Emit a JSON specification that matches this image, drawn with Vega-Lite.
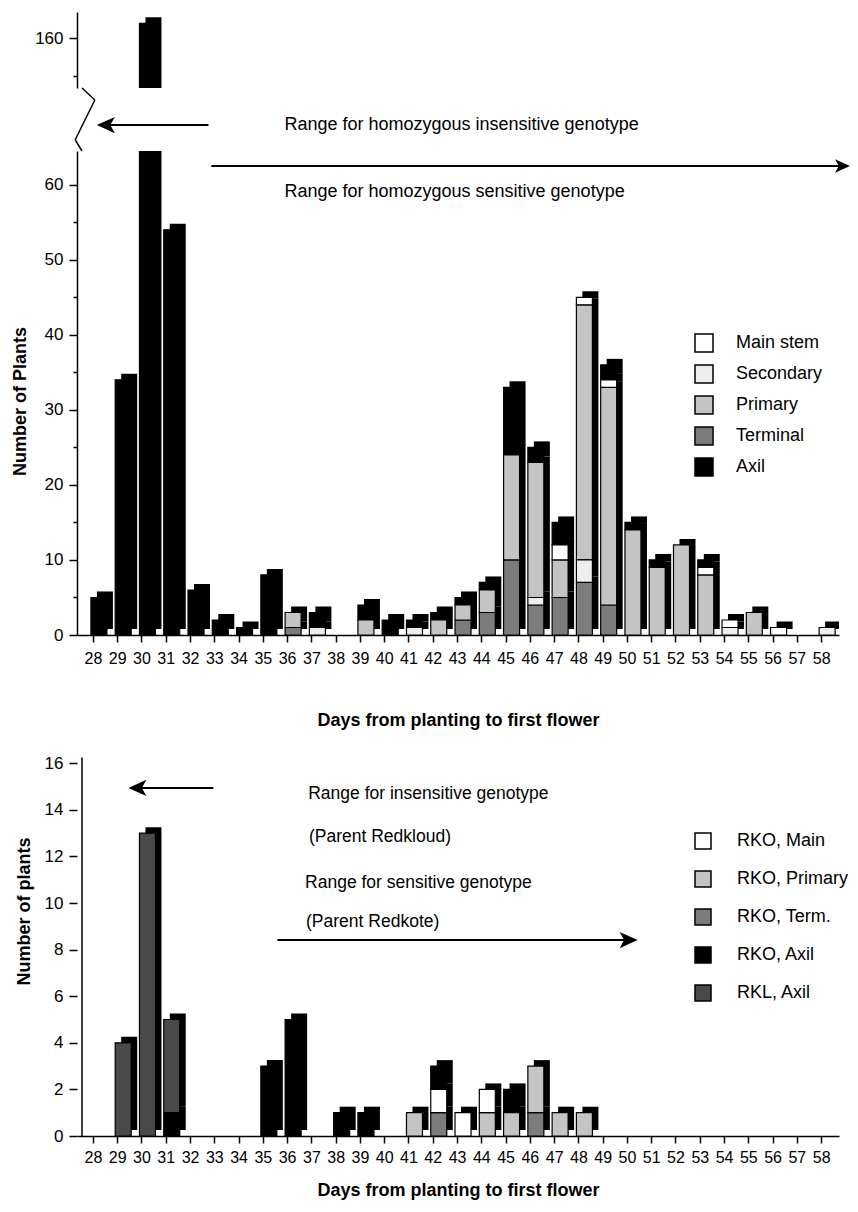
{
  "$schema": "https://vega.github.io/schema/vega-lite/v6.json",
  "autosize": {"type": "pad"},
  "padding": {"left": 11, "top": 12, "right": 2, "bottom": 4},
  "background": "white",
  "config": {
    "view": {"stroke": null},
    "font": "Liberation Sans",
    "axis": {"grid": false, "domainColor": "black", "domainWidth": 1.5, "tickColor": "black", "tickWidth": 1.5, "labelColor": "black", "labelFont": "Liberation Sans", "titleFont": "Liberation Sans", "titleColor": "black", "titleFontWeight": "bold", "titleFontSize": 18},
    "axisX": {"labelOverlap": false, "labelSeparation": 0, "labelFlush": false},
    "legend": {"titleFont": "Liberation Sans", "labelFont": "Liberation Sans", "labelColor": "black"}
  },
  "datasets": {
    "top": [
      {"day": 28, "part": "Axil", "n": 5},
      {"day": 29, "part": "Axil", "n": 34},
      {"day": 30, "part": "Axil", "n": 162},
      {"day": 31, "part": "Axil", "n": 54},
      {"day": 32, "part": "Axil", "n": 6},
      {"day": 33, "part": "Axil", "n": 2},
      {"day": 34, "part": "Axil", "n": 1},
      {"day": 35, "part": "Axil", "n": 8},
      {"day": 36, "part": "Terminal", "n": 1},
      {"day": 36, "part": "Primary", "n": 2},
      {"day": 37, "part": "Axil", "n": 2},
      {"day": 37, "part": "Secondary", "n": 1},
      {"day": 39, "part": "Axil", "n": 2},
      {"day": 39, "part": "Primary", "n": 2},
      {"day": 40, "part": "Axil", "n": 2},
      {"day": 41, "part": "Axil", "n": 1},
      {"day": 41, "part": "Secondary", "n": 1},
      {"day": 42, "part": "Axil", "n": 1},
      {"day": 42, "part": "Primary", "n": 2},
      {"day": 43, "part": "Axil", "n": 1},
      {"day": 43, "part": "Terminal", "n": 2},
      {"day": 43, "part": "Primary", "n": 2},
      {"day": 44, "part": "Axil", "n": 1},
      {"day": 44, "part": "Terminal", "n": 3},
      {"day": 44, "part": "Primary", "n": 3},
      {"day": 45, "part": "Axil", "n": 9},
      {"day": 45, "part": "Terminal", "n": 10},
      {"day": 45, "part": "Primary", "n": 14},
      {"day": 46, "part": "Axil", "n": 2},
      {"day": 46, "part": "Terminal", "n": 4},
      {"day": 46, "part": "Primary", "n": 18},
      {"day": 46, "part": "Secondary", "n": 1},
      {"day": 47, "part": "Axil", "n": 3},
      {"day": 47, "part": "Terminal", "n": 5},
      {"day": 47, "part": "Primary", "n": 5},
      {"day": 47, "part": "Main stem", "n": 2},
      {"day": 48, "part": "Terminal", "n": 7},
      {"day": 48, "part": "Primary", "n": 34},
      {"day": 48, "part": "Secondary", "n": 3},
      {"day": 48, "part": "Main stem", "n": 1},
      {"day": 49, "part": "Axil", "n": 2},
      {"day": 49, "part": "Terminal", "n": 4},
      {"day": 49, "part": "Primary", "n": 29},
      {"day": 49, "part": "Main stem", "n": 1},
      {"day": 50, "part": "Axil", "n": 1},
      {"day": 50, "part": "Primary", "n": 14},
      {"day": 51, "part": "Axil", "n": 1},
      {"day": 51, "part": "Primary", "n": 9},
      {"day": 52, "part": "Primary", "n": 12},
      {"day": 53, "part": "Axil", "n": 1},
      {"day": 53, "part": "Primary", "n": 8},
      {"day": 53, "part": "Main stem", "n": 1},
      {"day": 54, "part": "Secondary", "n": 1},
      {"day": 54, "part": "Main stem", "n": 1},
      {"day": 55, "part": "Primary", "n": 3},
      {"day": 56, "part": "Main stem", "n": 1},
      {"day": 58, "part": "Secondary", "n": 1}
    ],
    "bottom": [
      {"day": 29, "part": "RKL, Axil", "n": 4},
      {"day": 30, "part": "RKL, Axil", "n": 13},
      {"day": 31, "part": "RKO, Axil", "n": 1},
      {"day": 31, "part": "RKL, Axil", "n": 4},
      {"day": 35, "part": "RKO, Axil", "n": 3},
      {"day": 36, "part": "RKO, Axil", "n": 5},
      {"day": 38, "part": "RKO, Axil", "n": 1},
      {"day": 39, "part": "RKO, Axil", "n": 1},
      {"day": 41, "part": "RKO, Primary", "n": 1},
      {"day": 42, "part": "RKO, Axil", "n": 1},
      {"day": 42, "part": "RKO, Term.", "n": 1},
      {"day": 42, "part": "RKO, Main", "n": 1},
      {"day": 43, "part": "RKO, Main", "n": 1},
      {"day": 44, "part": "RKO, Primary", "n": 1},
      {"day": 44, "part": "RKO, Main", "n": 1},
      {"day": 45, "part": "RKO, Axil", "n": 1},
      {"day": 45, "part": "RKO, Primary", "n": 1},
      {"day": 46, "part": "RKO, Term.", "n": 1},
      {"day": 46, "part": "RKO, Primary", "n": 2},
      {"day": 47, "part": "RKO, Primary", "n": 1},
      {"day": 48, "part": "RKO, Primary", "n": 1}
    ]
  },
  "bounds": "flush",
  "spacing": 63,
  "resolve": {"scale": {"color": "independent", "y": "independent", "x": "independent"}, "legend": {"color": "independent"}},
  "vconcat": [
    {
      "width": 762,
      "height": 76,
      "data": {"name": "top"},
      "layer": [
        {
          "mark": {"type": "bar", "width": 16, "xOffset": 12, "yOffset": -6, "color": "black", "clip": true},
          "encoding": {
            "x": {"field": "day", "type": "quantitative", "scale": {"domain": [27.55, 58.53], "nice": false, "zero": false}, "axis": null},
            "y": {"field": "n", "type": "quantitative", "stack": "zero", "scale": {"domain": [153.4, 163.5], "nice": false, "zero": false},
                  "axis": {"title": null, "values": [155, 160], "labelExpr": "datum.value == 160 ? datum.label : ''", "labelFontSize": 17, "labelPadding": 6,
                           "tickSize": {"condition": {"test": "datum.value == 160", "value": 8}, "value": 4}}},
            "detail": {"field": "part"},
            "order": {"value": null}
          }
        },
        {
          "mark": {"type": "bar", "width": 16, "xOffset": 6, "color": "black", "stroke": "black", "strokeWidth": 1.2, "clip": true},
          "encoding": {
            "x": {"field": "day", "type": "quantitative", "scale": {"domain": [27.55, 58.53], "nice": false, "zero": false}, "axis": null},
            "y": {"field": "n", "type": "quantitative", "stack": "zero", "scale": {"domain": [153.4, 163.5], "nice": false, "zero": false}},
            "detail": {"field": "part"},
            "order": {"value": null}
          }
        }
      ]
    },
    {
      "width": 762,
      "height": 484,
      "data": {"name": "top"},
      "layer": [
        {
          "mark": {"type": "bar", "width": 16, "xOffset": 12, "yOffset": -6, "color": "black", "clip": true},
          "encoding": {
            "x": {"field": "day", "type": "quantitative", "scale": {"domain": [27.55, 58.53], "nice": false, "zero": false},
                  "axis": {"title": "Days from planting to first flower", "values": [28,29,30,31,32,33,34,35,36,37,38,39,40,41,42,43,44,45,46,47,48,49,50,51,52,53,54,55,56,57,58], "format": "d", "labelFontSize": 16, "tickSize": 7, "labelPadding": 8, "labelOverlap": false, "titlePadding": 45}},
            "y": {"field": "n", "type": "quantitative", "stack": "zero", "scale": {"domain": [0, 64.5], "nice": false},
                  "axis": {"title": "Number of Plants", "values": [0,5,10,15,20,25,30,35,40,45,50,55,60],
                           "labelExpr": "datum.value % 10 == 0 ? datum.label : ''", "labelFontSize": 17, "labelPadding": 6,
                           "tickSize": {"condition": {"test": "datum.value % 10 == 0", "value": 8}, "value": 4},
                           "titleX": -56.5, "titleY": 250, "titleBaseline": "middle", "titleAlign": "center"}},
            "detail": {"field": "part"},
            "order": {"value": null}
          }
        },
        {
          "mark": {"type": "bar", "width": 16, "xOffset": 6, "stroke": "black", "strokeWidth": 1.2, "clip": true},
          "encoding": {
            "x": {"field": "day", "type": "quantitative", "scale": {"domain": [27.55, 58.53], "nice": false, "zero": false},
                  "axis": {"title": "Days from planting to first flower", "values": [28,29,30,31,32,33,34,35,36,37,38,39,40,41,42,43,44,45,46,47,48,49,50,51,52,53,54,55,56,57,58], "format": "d", "labelFontSize": 16, "tickSize": 7, "labelPadding": 8, "labelOverlap": false, "titlePadding": 45}},
            "y": {"field": "n", "type": "quantitative", "stack": "zero", "scale": {"domain": [0, 64.5], "nice": false}},
            "color": {"field": "part", "type": "nominal",
                      "scale": {"domain": ["Main stem", "Secondary", "Primary", "Terminal", "Axil"], "range": ["#ffffff", "#eeeeee", "#c4c4c4", "#7c7c7c", "#000000"]},
                      "legend": {"title": null, "orient": "none", "legendX": 617, "legendY": 182, "symbolType": "square", "symbolSize": 324,
                                 "symbolStrokeColor": "black", "symbolStrokeWidth": 1.5, "symbolOpacity": 1, "labelFontSize": 18, "labelOffset": 22, "rowPadding": 7}},
            "order": {"value": null}
          }
        },
        {
          "data": {"values": [{}]},
          "mark": {"type": "text", "align": "left", "baseline": "middle", "fontSize": 18, "font": "Liberation Sans", "color": "black"},
          "encoding": {
            "x": {"datum": 35.89, "type": "quantitative", "scale": {"domain": [27.55, 58.53], "nice": false, "zero": false},
                  "axis": {"title": "Days from planting to first flower", "values": [28,29,30,31,32,33,34,35,36,37,38,39,40,41,42,43,44,45,46,47,48,49,50,51,52,53,54,55,56,57,58], "format": "d", "labelFontSize": 16, "tickSize": 7, "labelPadding": 8, "labelOverlap": false, "titlePadding": 45}},
            "y": {"datum": 67.96, "type": "quantitative", "scale": {"domain": [0, 64.5], "nice": false}},
            "text": {"value": "Range for homozygous insensitive genotype"}
          }
        },
        {
          "data": {"values": [{}]},
          "mark": {"type": "text", "align": "left", "baseline": "middle", "fontSize": 18, "font": "Liberation Sans", "color": "black"},
          "encoding": {
            "x": {"datum": 35.89, "type": "quantitative", "scale": {"domain": [27.55, 58.53], "nice": false, "zero": false},
                  "axis": {"title": "Days from planting to first flower", "values": [28,29,30,31,32,33,34,35,36,37,38,39,40,41,42,43,44,45,46,47,48,49,50,51,52,53,54,55,56,57,58], "format": "d", "labelFontSize": 16, "tickSize": 7, "labelPadding": 8, "labelOverlap": false, "titlePadding": 45}},
            "y": {"datum": 59.04, "type": "quantitative", "scale": {"domain": [0, 64.5], "nice": false}},
            "text": {"value": "Range for homozygous sensitive genotype"}
          }
        },
        {
          "data": {"values": [{}]},
          "mark": {"type": "rule", "strokeWidth": 2, "color": "black"},
          "encoding": {
            "x": {"datum": 32.76, "type": "quantitative", "scale": {"domain": [27.55, 58.53], "nice": false, "zero": false},
                  "axis": {"title": "Days from planting to first flower", "values": [28,29,30,31,32,33,34,35,36,37,38,39,40,41,42,43,44,45,46,47,48,49,50,51,52,53,54,55,56,57,58], "format": "d", "labelFontSize": 16, "tickSize": 7, "labelPadding": 8, "labelOverlap": false, "titlePadding": 45}},
            "x2": {"datum": 28.5},
            "y": {"datum": 67.96, "type": "quantitative", "scale": {"domain": [0, 64.5], "nice": false}}
          }
        },
        {
          "data": {"values": [{}]},
          "mark": {"type": "point", "shape": "M0,0L1,-0.45L0.75,0L1,0.45Z", "size": 1296, "filled": true, "color": "black", "opacity": 1},
          "encoding": {
            "x": {"datum": 28.16, "type": "quantitative", "scale": {"domain": [27.55, 58.53], "nice": false, "zero": false},
                  "axis": {"title": "Days from planting to first flower", "values": [28,29,30,31,32,33,34,35,36,37,38,39,40,41,42,43,44,45,46,47,48,49,50,51,52,53,54,55,56,57,58], "format": "d", "labelFontSize": 16, "tickSize": 7, "labelPadding": 8, "labelOverlap": false, "titlePadding": 45}},
            "y": {"datum": 67.96, "type": "quantitative", "scale": {"domain": [0, 64.5], "nice": false}}
          }
        },
        {
          "data": {"values": [{}]},
          "mark": {"type": "rule", "strokeWidth": 2, "color": "black"},
          "encoding": {
            "x": {"datum": 32.88, "type": "quantitative", "scale": {"domain": [27.55, 58.53], "nice": false, "zero": false},
                  "axis": {"title": "Days from planting to first flower", "values": [28,29,30,31,32,33,34,35,36,37,38,39,40,41,42,43,44,45,46,47,48,49,50,51,52,53,54,55,56,57,58], "format": "d", "labelFontSize": 16, "tickSize": 7, "labelPadding": 8, "labelOverlap": false, "titlePadding": 45}},
            "x2": {"datum": 58.9},
            "y": {"datum": 62.5, "type": "quantitative", "scale": {"domain": [0, 64.5], "nice": false}}
          }
        },
        {
          "data": {"values": [{}]},
          "mark": {"type": "point", "shape": "M0,0L-1,-0.45L-0.75,0L-1,0.45Z", "size": 900, "filled": true, "color": "black", "opacity": 1},
          "encoding": {
            "x": {"datum": 59.19, "type": "quantitative", "scale": {"domain": [27.55, 58.53], "nice": false, "zero": false},
                  "axis": {"title": "Days from planting to first flower", "values": [28,29,30,31,32,33,34,35,36,37,38,39,40,41,42,43,44,45,46,47,48,49,50,51,52,53,54,55,56,57,58], "format": "d", "labelFontSize": 16, "tickSize": 7, "labelPadding": 8, "labelOverlap": false, "titlePadding": 45}},
            "y": {"datum": 62.5, "type": "quantitative", "scale": {"domain": [0, 64.5], "nice": false}}
          }
        },
        {
          "data": {"values": [{}]},
          "mark": {"type": "rule", "strokeWidth": 1.5, "color": "black"},
          "encoding": {
            "x": {"datum": 27.55, "type": "quantitative", "scale": {"domain": [27.55, 58.53], "nice": false, "zero": false},
                  "axis": {"title": "Days from planting to first flower", "values": [28,29,30,31,32,33,34,35,36,37,38,39,40,41,42,43,44,45,46,47,48,49,50,51,52,53,54,55,56,57,58], "format": "d", "labelFontSize": 16, "tickSize": 7, "labelPadding": 8, "labelOverlap": false, "titlePadding": 45}},
            "x2": {"datum": 27.27},
            "y": {"datum": 64.5, "type": "quantitative", "scale": {"domain": [0, 64.5], "nice": false}},
            "y2": {"datum": 66.0}
          }
        },
        {
          "data": {"values": [{}]},
          "mark": {"type": "rule", "strokeWidth": 1.5, "color": "black"},
          "encoding": {
            "x": {"datum": 27.27, "type": "quantitative", "scale": {"domain": [27.55, 58.53], "nice": false, "zero": false},
                  "axis": {"title": "Days from planting to first flower", "values": [28,29,30,31,32,33,34,35,36,37,38,39,40,41,42,43,44,45,46,47,48,49,50,51,52,53,54,55,56,57,58], "format": "d", "labelFontSize": 16, "tickSize": 7, "labelPadding": 8, "labelOverlap": false, "titlePadding": 45}},
            "x2": {"datum": 28.08},
            "y": {"datum": 66.0, "type": "quantitative", "scale": {"domain": [0, 64.5], "nice": false}},
            "y2": {"datum": 71.3}
          }
        },
        {
          "data": {"values": [{}]},
          "mark": {"type": "rule", "strokeWidth": 1.5, "color": "black"},
          "encoding": {
            "x": {"datum": 28.08, "type": "quantitative", "scale": {"domain": [27.55, 58.53], "nice": false, "zero": false},
                  "axis": {"title": "Days from planting to first flower", "values": [28,29,30,31,32,33,34,35,36,37,38,39,40,41,42,43,44,45,46,47,48,49,50,51,52,53,54,55,56,57,58], "format": "d", "labelFontSize": 16, "tickSize": 7, "labelPadding": 8, "labelOverlap": false, "titlePadding": 45}},
            "x2": {"datum": 27.55},
            "y": {"datum": 71.3, "type": "quantitative", "scale": {"domain": [0, 64.5], "nice": false}},
            "y2": {"datum": 72.9}
          }
        }
      ]
    },
    {
      "width": 762,
      "height": 438,
      "data": {"name": "bottom"},
      "layer": [
        {
          "mark": {"type": "bar", "width": 16, "xOffset": 12, "yOffset": -6, "color": "black"},
          "encoding": {
            "x": {"field": "day", "type": "quantitative", "scale": {"domain": [27.55, 58.53], "nice": false, "zero": false},
                  "axis": {"title": "Days from planting to first flower", "values": [28,29,30,31,32,33,34,35,36,37,38,39,40,41,42,43,44,45,46,47,48,49,50,51,52,53,54,55,56,57,58], "format": "d", "labelFontSize": 16, "tickSize": 7, "labelPadding": 6, "labelOverlap": false, "titlePadding": 16}},
            "y": {"field": "n", "type": "quantitative", "stack": "zero", "scale": {"domain": [0, 18.8], "nice": false},
                  "axis": {"title": "Number of plants", "domain": false, "values": [0,1,2,3,4,5,6,7,8,9,10,11,12,13,14,15,16],
                           "labelExpr": "datum.value % 2 == 0 ? datum.label : ''", "labelFontSize": 17, "labelPadding": 6,
                           "tickSize": {"condition": {"test": "datum.value % 2 == 0", "value": 8}, "value": 4},
                           "titleX": -53, "titleY": 213, "titleBaseline": "middle", "titleAlign": "center"}},
            "detail": {"field": "part"},
            "order": {"value": null}
          }
        },
        {
          "mark": {"type": "bar", "width": 16, "xOffset": 6, "stroke": "black", "strokeWidth": 1.2},
          "encoding": {
            "x": {"field": "day", "type": "quantitative", "scale": {"domain": [27.55, 58.53], "nice": false, "zero": false},
                  "axis": {"title": "Days from planting to first flower", "values": [28,29,30,31,32,33,34,35,36,37,38,39,40,41,42,43,44,45,46,47,48,49,50,51,52,53,54,55,56,57,58], "format": "d", "labelFontSize": 16, "tickSize": 7, "labelPadding": 6, "labelOverlap": false, "titlePadding": 16}},
            "y": {"field": "n", "type": "quantitative", "stack": "zero", "scale": {"domain": [0, 18.8], "nice": false}},
            "color": {"field": "part", "type": "nominal",
                      "scale": {"domain": ["RKO, Main", "RKO, Primary", "RKO, Term.", "RKO, Axil", "RKL, Axil"], "range": ["#ffffff", "#c4c4c4", "#7c7c7c", "#000000", "#4a4a4a"]},
                      "legend": {"title": null, "orient": "none", "legendX": 617, "legendY": 134, "symbolType": "square", "symbolSize": 256,
                                 "symbolStrokeColor": "black", "symbolStrokeWidth": 1.5, "symbolOpacity": 1, "labelFontSize": 18, "labelOffset": 25, "rowPadding": 16}},
            "order": {"value": null}
          }
        },
        {
          "data": {"values": [{}]},
          "mark": {"type": "rule", "strokeWidth": 1.5, "color": "black"},
          "encoding": {
            "x": {"datum": 27.55, "type": "quantitative", "scale": {"domain": [27.55, 58.53], "nice": false, "zero": false},
                  "axis": {"title": "Days from planting to first flower", "values": [28,29,30,31,32,33,34,35,36,37,38,39,40,41,42,43,44,45,46,47,48,49,50,51,52,53,54,55,56,57,58], "format": "d", "labelFontSize": 16, "tickSize": 7, "labelPadding": 6, "labelOverlap": false, "titlePadding": 16}},
            "y": {"datum": 0, "type": "quantitative", "scale": {"domain": [0, 18.8], "nice": false}},
            "y2": {"datum": 16.25}
          }
        },
        {
          "data": {"values": [{}]},
          "mark": {"type": "text", "align": "left", "baseline": "middle", "fontSize": 17.5, "font": "Liberation Sans", "color": "black"},
          "encoding": {
            "x": {"datum": 36.87, "type": "quantitative", "scale": {"domain": [27.55, 58.53], "nice": false, "zero": false},
                  "axis": {"title": "Days from planting to first flower", "values": [28,29,30,31,32,33,34,35,36,37,38,39,40,41,42,43,44,45,46,47,48,49,50,51,52,53,54,55,56,57,58], "format": "d", "labelFontSize": 16, "tickSize": 7, "labelPadding": 6, "labelOverlap": false, "titlePadding": 16}},
            "y": {"datum": 14.68, "type": "quantitative", "scale": {"domain": [0, 18.8], "nice": false}},
            "text": {"value": "Range for insensitive genotype"}
          }
        },
        {
          "data": {"values": [{}]},
          "mark": {"type": "text", "align": "left", "baseline": "middle", "fontSize": 17.5, "font": "Liberation Sans", "color": "black"},
          "encoding": {
            "x": {"datum": 36.9, "type": "quantitative", "scale": {"domain": [27.55, 58.53], "nice": false, "zero": false},
                  "axis": {"title": "Days from planting to first flower", "values": [28,29,30,31,32,33,34,35,36,37,38,39,40,41,42,43,44,45,46,47,48,49,50,51,52,53,54,55,56,57,58], "format": "d", "labelFontSize": 16, "tickSize": 7, "labelPadding": 6, "labelOverlap": false, "titlePadding": 16}},
            "y": {"datum": 12.83, "type": "quantitative", "scale": {"domain": [0, 18.8], "nice": false}},
            "text": {"value": "(Parent Redkloud)"}
          }
        },
        {
          "data": {"values": [{}]},
          "mark": {"type": "text", "align": "left", "baseline": "middle", "fontSize": 17.5, "font": "Liberation Sans", "color": "black"},
          "encoding": {
            "x": {"datum": 36.74, "type": "quantitative", "scale": {"domain": [27.55, 58.53], "nice": false, "zero": false},
                  "axis": {"title": "Days from planting to first flower", "values": [28,29,30,31,32,33,34,35,36,37,38,39,40,41,42,43,44,45,46,47,48,49,50,51,52,53,54,55,56,57,58], "format": "d", "labelFontSize": 16, "tickSize": 7, "labelPadding": 6, "labelOverlap": false, "titlePadding": 16}},
            "y": {"datum": 10.86, "type": "quantitative", "scale": {"domain": [0, 18.8], "nice": false}},
            "text": {"value": "Range for sensitive genotype"}
          }
        },
        {
          "data": {"values": [{}]},
          "mark": {"type": "text", "align": "left", "baseline": "middle", "fontSize": 17.5, "font": "Liberation Sans", "color": "black"},
          "encoding": {
            "x": {"datum": 36.78, "type": "quantitative", "scale": {"domain": [27.55, 58.53], "nice": false, "zero": false},
                  "axis": {"title": "Days from planting to first flower", "values": [28,29,30,31,32,33,34,35,36,37,38,39,40,41,42,43,44,45,46,47,48,49,50,51,52,53,54,55,56,57,58], "format": "d", "labelFontSize": 16, "tickSize": 7, "labelPadding": 6, "labelOverlap": false, "titlePadding": 16}},
            "y": {"datum": 9.18, "type": "quantitative", "scale": {"domain": [0, 18.8], "nice": false}},
            "text": {"value": "(Parent Redkote)"}
          }
        },
        {
          "data": {"values": [{}]},
          "mark": {"type": "rule", "strokeWidth": 2, "color": "black"},
          "encoding": {
            "x": {"datum": 32.96, "type": "quantitative", "scale": {"domain": [27.55, 58.53], "nice": false, "zero": false},
                  "axis": {"title": "Days from planting to first flower", "values": [28,29,30,31,32,33,34,35,36,37,38,39,40,41,42,43,44,45,46,47,48,49,50,51,52,53,54,55,56,57,58], "format": "d", "labelFontSize": 16, "tickSize": 7, "labelPadding": 6, "labelOverlap": false, "titlePadding": 16}},
            "x2": {"datum": 29.8},
            "y": {"datum": 14.94, "type": "quantitative", "scale": {"domain": [0, 18.8], "nice": false}}
          }
        },
        {
          "data": {"values": [{}]},
          "mark": {"type": "point", "shape": "M0,0L1,-0.45L0.75,0L1,0.45Z", "size": 1296, "filled": true, "color": "black", "opacity": 1},
          "encoding": {
            "x": {"datum": 29.46, "type": "quantitative", "scale": {"domain": [27.55, 58.53], "nice": false, "zero": false},
                  "axis": {"title": "Days from planting to first flower", "values": [28,29,30,31,32,33,34,35,36,37,38,39,40,41,42,43,44,45,46,47,48,49,50,51,52,53,54,55,56,57,58], "format": "d", "labelFontSize": 16, "tickSize": 7, "labelPadding": 6, "labelOverlap": false, "titlePadding": 16}},
            "y": {"datum": 14.94, "type": "quantitative", "scale": {"domain": [0, 18.8], "nice": false}}
          }
        },
        {
          "data": {"values": [{}]},
          "mark": {"type": "rule", "strokeWidth": 2, "color": "black"},
          "encoding": {
            "x": {"datum": 35.6, "type": "quantitative", "scale": {"domain": [27.55, 58.53], "nice": false, "zero": false},
                  "axis": {"title": "Days from planting to first flower", "values": [28,29,30,31,32,33,34,35,36,37,38,39,40,41,42,43,44,45,46,47,48,49,50,51,52,53,54,55,56,57,58], "format": "d", "labelFontSize": 16, "tickSize": 7, "labelPadding": 6, "labelOverlap": false, "titlePadding": 16}},
            "x2": {"datum": 50.1},
            "y": {"datum": 8.41, "type": "quantitative", "scale": {"domain": [0, 18.8], "nice": false}}
          }
        },
        {
          "data": {"values": [{}]},
          "mark": {"type": "point", "shape": "M0,0L-1,-0.45L-0.75,0L-1,0.45Z", "size": 1296, "filled": true, "color": "black", "opacity": 1},
          "encoding": {
            "x": {"datum": 50.44, "type": "quantitative", "scale": {"domain": [27.55, 58.53], "nice": false, "zero": false},
                  "axis": {"title": "Days from planting to first flower", "values": [28,29,30,31,32,33,34,35,36,37,38,39,40,41,42,43,44,45,46,47,48,49,50,51,52,53,54,55,56,57,58], "format": "d", "labelFontSize": 16, "tickSize": 7, "labelPadding": 6, "labelOverlap": false, "titlePadding": 16}},
            "y": {"datum": 8.41, "type": "quantitative", "scale": {"domain": [0, 18.8], "nice": false}}
          }
        }
      ]
    }
  ]
}
